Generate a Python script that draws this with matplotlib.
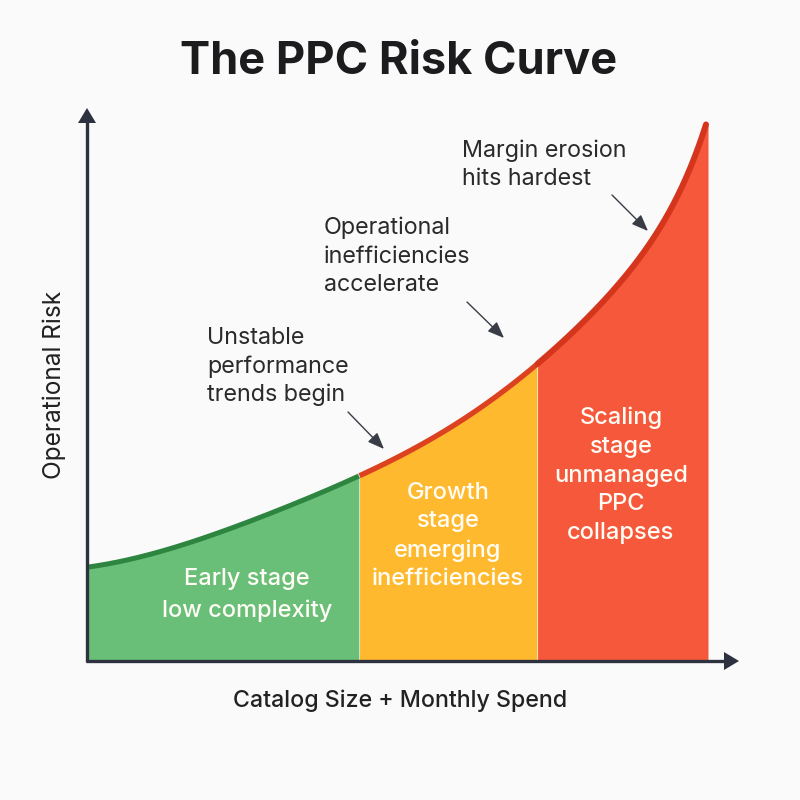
#!/usr/bin/env python3
"""The PPC risk curve, split into three coloured stages."""
import matplotlib
matplotlib.use("Agg")
import matplotlib.pyplot as plt
import numpy as np

plt.rcParams["font.family"] = ["Inter", "Roboto", "DejaVu Sans"]

# curve: catalog size / spend vs risk, in picture pixels above the baseline
curve_x = [88, 137, 187, 237, 287, 357, 403, 470, 537, 560, 583, 610, 633, 653, 677, 690, 700, 706]
curve_y = [94, 103, 118, 135, 154, 183, 208, 247, 295, 316, 338, 368, 398, 424, 461, 488, 518, 541]

stage_edges = [88, 359, 537, 708]
stage_fill = ["#69bf77", "#ffb92e", "#f5583b"]
stage_line = ["#2e8540", "#dc4120", "#d4351c"]
stage_labels = ["Early stage\nlow complexity", "Growth\nstage\nemerging\ninefficiencies",
                "Scaling\nstage\nunmanaged\nPPC\ncollapses"]
notes = ["Margin erosion\nhits hardest", "Operational\ninefficiencies\naccelerate",
         "Unstable\nperformance\ntrends begin"]

# layout, in picture pixels
stage_label_xy = [(247, 595), (448, 536), (621, 475.5)]
stage_label_spacing = [1.49, 1.38, 1.39]
notes_xy = [(462, 165), (324, 256.5), (207, 366.5)]
arrows_from = [(612, 195), (467, 302), (348, 412)]
arrows_to = [(648, 231), (504, 338), (384, 449)]
BASE_ROW = 661
AXIS = "#2d3140"


def py(row):
    return 800 - row


def main():
    fig = plt.figure(figsize=(8, 8), dpi=100, facecolor="#fafafa")
    ax = fig.add_axes([0, 0, 1, 1])
    ax.set_xlim(0, 800)
    ax.set_ylim(0, 800)
    ax.axis("off")

    base = py(BASE_ROW)
    # least squares on log height, evens out reading error without wiggles
    poly = np.polynomial.Polynomial.fit(curve_x, np.log(curve_y), 7)
    fine_x = np.linspace(curve_x[0], curve_x[-1], 900)
    fine_y = np.exp(poly(fine_x)) + base

    for i in range(3):
        lo, hi = stage_edges[i], stage_edges[i + 1]
        m = (fine_x >= lo) & (fine_x <= hi)
        # fill overlaps the next stage slightly so no seam shows between them
        fm = (fine_x >= lo) & (fine_x <= hi + 0.5)
        xs = fine_x[fm]
        ys = fine_y[fm]
        if i == 2:
            # fill runs a touch past the end of the line
            xs = np.append(xs, hi)
            ys = np.append(ys, ys[-1])
        ax.fill_between(xs, base, ys, color=stage_fill[i], lw=0, zorder=1 + 0.1 * (2 - i))
        cap = "round" if i == 2 else "butt"
        ax.plot(fine_x[m], fine_y[m], color=stage_line[i], lw=[3.6, 3.8, 4.3][i],
                solid_capstyle=cap, zorder=2)

    # axes, with solid triangular heads
    ax.plot([87, 87], [base - 1, py(120)], color=AXIS, lw=2.4, solid_capstyle="butt", zorder=4)
    ax.fill([78, 96, 87], [py(123), py(123), py(108)], color=AXIS, lw=0, zorder=4)
    ax.plot([85.5, 726], [base, base], color=AXIS, lw=2.4, solid_capstyle="butt", zorder=4)
    ax.fill([724, 724, 739], [base + 9, base - 9, base], color=AXIS, lw=0, zorder=4)

    ax.text(399, py(62), "The PPC Risk Curve", fontsize=32.5, fontweight="bold",
            color="#1c1c1e", ha="center", va="center")
    ax.text(400, py(701), "Catalog Size + Monthly Spend", fontsize=16.7, fontweight="medium",
            color="#222222", ha="center", va="center")
    ax.text(54, py(385), "Operational Risk", fontsize=17.6, rotation=90,
            color="#222222", ha="center", va="center")

    for label, (x, y), sp in zip(stage_labels, stage_label_xy, stage_label_spacing):
        ax.text(x, py(y), label, color="#fffdf6", fontsize=17, fontweight="medium",
                ha="center", va="center", linespacing=sp, zorder=5)

    for label, (x, y) in zip(notes, notes_xy):
        ax.text(x, py(y), label, color="#2a2a2a", fontsize=16.8, ha="left", va="center",
                linespacing=1.37, zorder=5)

    for a, b in zip(arrows_from, arrows_to):
        ax.annotate("", xy=(b[0], py(b[1])), xytext=(a[0], py(a[1])),
                    arrowprops=dict(arrowstyle="-|>,head_width=0.4,head_length=1.0",
                                    color="#383c44", lw=1.0, shrinkA=0, shrinkB=0), zorder=5)

    fig.savefig("out.png", dpi=100, facecolor=fig.get_facecolor())


if __name__ == "__main__":
    main()
